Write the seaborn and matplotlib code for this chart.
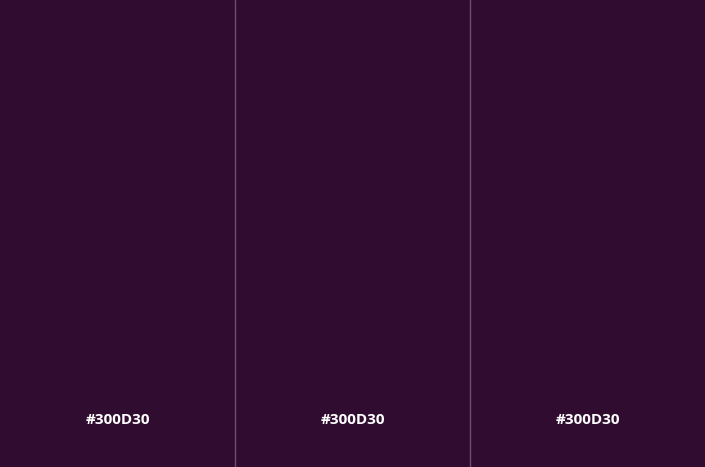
import matplotlib
matplotlib.use('Agg')
import matplotlib.pyplot as plt
import seaborn as sns
import pandas as pd

# swatch data
swatches = ['a', 'b', 'c']
hex_codes = ['#300D30', '#300D30', '#300D30']
heights = [1, 1, 1]

df = pd.DataFrame({'swatch': swatches, 'height': heights})

sns.set_style('white')
plt.rcParams['font.family'] = ['Open Sans', 'DejaVu Sans']

fig = plt.figure(figsize=(7.05, 4.67), dpi=100)
ax = fig.add_axes([0, 0, 1, 1])

sns.barplot(data=df, x='swatch', y='height', hue='swatch', palette=hex_codes,
            width=1.0, saturation=1, legend=False, ax=ax, linewidth=0)

ax.set_xlim(-0.5, len(swatches) - 0.5)
ax.set_ylim(0, 1)

# thin dividers between swatches
for i in range(1, len(swatches)):
    ax.axvline(i - 0.5, color='#6e4f6e', linewidth=1)

for i, code in enumerate(hex_codes):
    ax.text(i, 0.1, code, ha='center', va='center', color='white',
            fontsize=11, fontweight='bold')

ax.set_axis_off()
fig.savefig('out.png', dpi=100, facecolor='#300D30')
